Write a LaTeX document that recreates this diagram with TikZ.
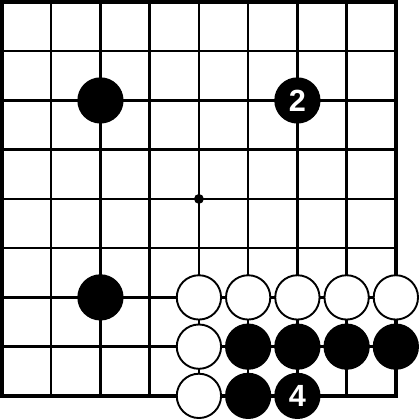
\documentclass[tikz,border=0pt]{standalone}
\usepackage{fontspec}
\setsansfont{Liberation Sans}
\usepackage{tikz}
\usetikzlibrary{positioning}
\tikzstyle{bstone} = [draw,circle,fill=black,line width=1.1pt,inner sep=0mm,minimum size=9mm,text=white,font=\sffamily\bfseries\fontsize{17.7}{18}\selectfont]
\tikzstyle{wstone} = [draw,circle,fill=white,line width=1.1pt,inner sep=0mm,minimum size=9mm]
\tikzstyle{hoshi}  = [circle,fill=black,inner sep=0mm,minimum size=2mm]

\begin{document}
\begin{tikzpicture}[node distance=1cm]
\useasboundingbox (-0.04,0.04) rectangle (8.49,-8.49);

% board
\draw[line width=1.45pt] (0,0) grid (8,-8);
\draw[line width=2pt] (0,0) rectangle (8,-8);
\node[hoshi] (H) at (4,-4) {};

% black stones
\node[bstone] (B1) at (2,-2) {};
\node[bstone] (B2) at (2,-6) {};
\node[bstone] (B3) at (6,-2) {2};

% white wall
\node[wstone] (W1) at (4,-6)  {};
\node[wstone] (W2) [right of=W1] {};
\node[wstone] (W3) [right of=W2] {};
\node[wstone] (W4) [right of=W3] {};
\node[wstone] (W5) [right of=W4] {};
\node[wstone] (W6) [below of=W1] {};
\node[wstone] (W7) [below of=W6] {};

% black stones under the wall
\node[bstone] (B4) [right of=W6] {};
\node[bstone] (B5) [right of=B4] {};
\node[bstone] (B6) [right of=B5] {};
\node[bstone] (B7) [right of=B6] {};
\node[bstone] (B8) [right of=W7] {};
\node[bstone] (B9) [right of=B8] {4};
\end{tikzpicture}
\end{document}
